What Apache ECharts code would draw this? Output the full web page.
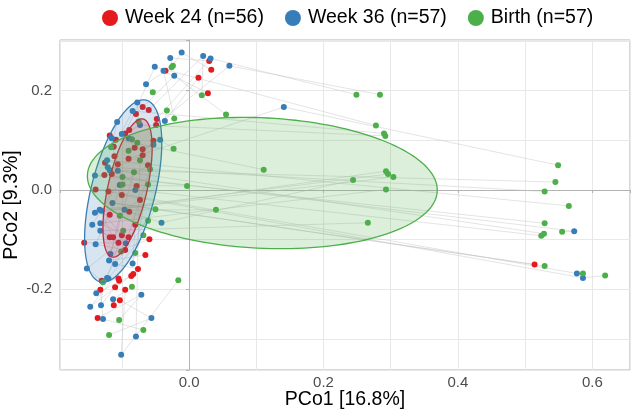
<!DOCTYPE html>
<html><head><meta charset="utf-8">
<script src="https://cdn.jsdelivr.net/npm/echarts@6/dist/echarts.min.js"></script>
<style>html,body{margin:0;padding:0;background:#fff}#c{width:631px;height:410px}</style>
</head><body><div id="c"></div>
<script>
const seriesNames = ['Week 24 (n=56)', 'Week 36 (n=57)', 'Birth (n=57)'];
const colors = ['#E41A1C', '#377EB8', '#4DAF4A'];
const fills = ['rgba(228,26,28,0.2)', 'rgba(55,126,184,0.2)', 'rgba(77,175,74,0.2)'];

const week24 = [
  [-0.035,0.240],[0.030,0.260],[0.033,0.242],[0.014,0.226],[0.028,0.195],
  [-0.069,0.167],[-0.060,0.161],[-0.079,0.153],[-0.048,0.143],[-0.049,0.131],
  [-0.089,0.121],[-0.118,0.110],[-0.095,0.114],[-0.112,0.087],[-0.081,0.085],
  [-0.069,0.082],[-0.053,0.099],[-0.109,0.101],[-0.111,0.068],[-0.090,0.063],
  [-0.069,0.070],[-0.125,0.055],[-0.106,0.052],[-0.115,0.032],[-0.126,0.030],
  [-0.078,0.008],[-0.139,0.001],[-0.120,-0.003],[-0.100,-0.010],[-0.089,-0.044],
  [-0.113,-0.095],[-0.100,-0.091],[-0.090,-0.095],[-0.105,-0.106],[-0.156,-0.106],
  [-0.059,-0.099],[-0.095,-0.121],[-0.076,-0.159],[-0.130,-0.183],[-0.105,-0.178],
  [-0.104,-0.183],[-0.086,-0.173],[-0.083,-0.169],[-0.110,-0.196],[-0.112,-0.232],
  [-0.136,-0.258],[0.514,-0.150],[-0.118,-0.095],[-0.061,0.050],[-0.073,-0.020],
  [-0.080,-0.070],[-0.065,-0.131],[-0.118,-0.050],[-0.095,-0.201],[-0.132,-0.201],
  [-0.103,-0.222]
];
const week36 = [
  [-0.051,0.248],[-0.028,0.266],[-0.038,0.240],[-0.022,0.230],[-0.064,0.213],
  [-0.077,0.176],[-0.084,0.159],[-0.107,0.137],[-0.036,0.139],[-0.053,0.091],
  [-0.115,0.104],[-0.090,0.104],[-0.100,0.113],[-0.011,0.277],[0.021,0.270],
  [0.032,0.265],[0.060,0.250],[0.141,0.167],[0.573,-0.083],[0.577,-0.168],
  [0.586,-0.177],[-0.118,0.040],[-0.121,0.046],[-0.140,0.029],[-0.106,0.039],
  [-0.080,0.000],[-0.114,-0.026],[-0.140,-0.046],[-0.133,-0.040],[-0.130,-0.042],
  [-0.096,-0.040],[-0.132,-0.067],[-0.132,-0.082],[-0.041,-0.066],[-0.139,-0.109],
  [-0.094,-0.107],[-0.117,-0.129],[-0.119,-0.142],[-0.110,-0.149],[-0.084,-0.148],
  [-0.152,-0.158],[-0.122,-0.177],[-0.120,-0.178],[-0.138,-0.208],[-0.147,-0.235],
  [-0.131,-0.232],[-0.113,-0.220],[-0.071,-0.211],[-0.128,-0.260],[-0.056,-0.258],
  [-0.079,-0.295],[-0.101,-0.332],[-0.122,0.060],[-0.073,0.131],[-0.043,0.101],
  [-0.103,0.010],[-0.144,-0.070]
];
const birth = [
  [-0.024,0.250],[-0.026,0.247],[-0.054,0.197],[-0.033,0.160],[-0.075,0.138],
  [-0.022,0.144],[-0.085,0.102],[-0.077,0.095],[-0.090,0.079],[-0.023,0.083],
  [-0.116,0.086],[0.019,0.191],[0.249,0.192],[0.284,0.192],[0.055,0.152],
  [0.278,0.130],[0.290,0.114],[0.292,0.109],[0.111,0.041],[0.549,0.050],
  [0.545,0.016],[0.529,-0.003],[0.565,-0.032],[0.529,-0.067],[0.555,-0.084],
  [0.528,-0.088],[0.524,-0.092],[0.529,-0.153],[0.586,-0.168],[0.619,-0.172],
  [-0.003,0.008],[0.040,-0.040],[0.244,0.020],[0.293,0.038],[0.296,0.032],
  [0.304,0.026],[0.293,0.001],[0.266,-0.066],[-0.016,-0.182],[-0.058,0.042],
  [-0.082,0.036],[-0.099,0.026],[-0.099,0.011],[-0.061,0.011],[-0.050,-0.039],
  [-0.103,-0.052],[-0.061,-0.062],[-0.098,-0.082],[-0.068,-0.091],[-0.101,-0.124],
  [-0.080,-0.127],[-0.128,-0.186],[-0.085,-0.195],[-0.104,-0.262],[-0.068,-0.282],
  [-0.119,-0.292],[-0.073,0.060]
];
// subject links (1-based indices, per birth sample); 0 = no sample
const subjWeek36 = [2,14,5,9,6,3,13,12,10,55,8,15,16,17,4,1,7,54,11,18,22,23,53,24,19,25,26,27,20,21,56,31,34,28,29,30,32,33,52,36,37,57,35,40,39,38,41,42,43,44,45,46,47,48,49,50,51];
const subjWeek24 = [2,3,1,4,6,5,11,15,16,17,12,7,9,10,8,13,14,18,19,20,21,22,23,24,25,26,27,47,28,29,49,50,30,53,31,32,33,34,54,35,36,48,37,51,38,52,39,40,41,42,43,44,45,46,55,56,0];

const xTickLabels = ['0.0', '0.2', '0.4', '0.6'];
const yTickLabels = ['-0.2', '0.0', '0.2'];

// 95% ellipses: centre, semi-axis vectors (data units)
const ellipseCenter = [[-0.0915,0.004],[-0.098,-0.002],[0.109,0.014]];
const ellipseAxisA = [[0.0231,0.139],[0.0342,0.183],[0.260,-0.008]];
const ellipseAxisB = [[0.0284,-0.0087],[0.0461,-0.0157],[-0.012,0.132]];

const X_MIN = -0.192, X_MAX = 0.656, Y_MIN = -0.3625, Y_MAX = 0.3021;
const FONT = 'Liberation Sans, Arial, sans-serif';

const paths = birth.map((b, i) => {
  const p = [];
  if (subjWeek24[i] > 0) p.push(week24[subjWeek24[i] - 1]);
  p.push(week36[subjWeek36[i] - 1]);
  p.push(b);
  return { coords: p };
});

function fmt(labels) {
  return v => {
    const s = (Math.abs(v) < 1e-9 ? 0 : v).toFixed(1);
    return labels.indexOf(s) >= 0 && Math.abs(v * 10 - Math.round(v * 10)) < 1e-6 ? s : '';
  };
}

const groups = [week24, week36, birth];
const series = [];
series.push({
  type: 'lines', coordinateSystem: 'cartesian2d', polyline: true, silent: true,
  data: paths, lineStyle: { color: '#c4c4c4', width: 1, opacity: 0.45 }, z: 1
});
groups.forEach((g, k) => {
  series.push({
    name: seriesNames[k], type: 'scatter', data: g, symbol: 'circle', symbolSize: 6,
    itemStyle: { color: colors[k], opacity: 1 }, z: 2
  });
});
[0, 1, 2].forEach(k => {
  series.push({
    type: 'custom', silent: true, z: 3,
    data: [ellipseCenter[k]],
    renderItem: (params, api) => {
      const c = ellipseCenter[k], a = ellipseAxisA[k], b = ellipseAxisB[k];
      const pts = [];
      const N = 160;
      for (let i = 0; i < N; i++) {
        const t = 2 * Math.PI * i / N;
        pts.push(api.coord([c[0] + a[0] * Math.cos(t) + b[0] * Math.sin(t),
                            c[1] + a[1] * Math.cos(t) + b[1] * Math.sin(t)]));
      }
      return { type: 'polygon', shape: { points: pts },
               style: { fill: fills[k], stroke: colors[k], lineWidth: 1.3 } };
    }
  });
});

const chart = echarts.init(document.getElementById('c'), null, { renderer: 'canvas' });
chart.setOption({
  animation: false,
  backgroundColor: '#fff',
  textStyle: { fontFamily: FONT },
  legend: {
    data: seriesNames.map(n => ({ name: n, icon: 'circle' })),
    left: 97, top: 3, itemWidth: 16, itemHeight: 16, itemGap: 21,
    textStyle: { fontSize: 19.5, color: '#000', fontFamily: FONT, padding: [0, 0, 0, 2] }
  },
  grid: { left: 60, right: 1, top: 40, bottom: 40, containLabel: false, outerBoundsMode: 'none',
          show: true, borderColor: '#b3b3b3', borderWidth: 1 },
  xAxis: [
    { type: 'value', min: X_MIN, max: X_MAX, splitNumber: 8,
      axisLine: { show: false }, axisTick: { show: false }, axisLabel: { show: false },
      splitLine: { show: true, lineStyle: { color: '#e8e8e8', width: 1 } } },
    { type: 'value', min: X_MIN, max: X_MAX, splitNumber: 4, position: 'bottom',
      axisLine: { show: true, lineStyle: { color: '#b3b3b3' } },
      axisTick: { show: true, length: 3, lineStyle: { color: '#b3b3b3' } },
      axisLabel: { show: true, margin: 5, fontSize: 15, color: '#4d4d4d', fontFamily: FONT, formatter: fmt(xTickLabels) },
      splitLine: { show: false },
      name: 'PCo1 [16.8%]', nameLocation: 'middle', nameGap: 20, nameMoveOverlap: false,
      nameTextStyle: { fontSize: 19.5, color: '#000', fontFamily: FONT } }
  ],
  yAxis: [
    { type: 'value', min: Y_MIN, max: Y_MAX, splitNumber: 7,
      axisLine: { show: false }, axisTick: { show: false }, axisLabel: { show: false },
      splitLine: { show: true, lineStyle: { color: '#e8e8e8', width: 1 } } },
    { type: 'value', min: Y_MIN, max: Y_MAX, splitNumber: 3, position: 'left',
      axisLine: { show: true, lineStyle: { color: '#b3b3b3' } },
      axisTick: { show: true, length: 3, lineStyle: { color: '#b3b3b3' } },
      axisLabel: { show: true, margin: 8, fontSize: 15, color: '#4d4d4d', fontFamily: FONT, formatter: fmt(yTickLabels) },
      splitLine: { show: false },
      name: 'PCo2 [9.3%]', nameLocation: 'middle', nameGap: 38, nameRotate: 90, nameMoveOverlap: false,
      nameTextStyle: { fontSize: 19.5, color: '#000', fontFamily: FONT } }
  ],
  series: series
});
</script>
</body></html>
